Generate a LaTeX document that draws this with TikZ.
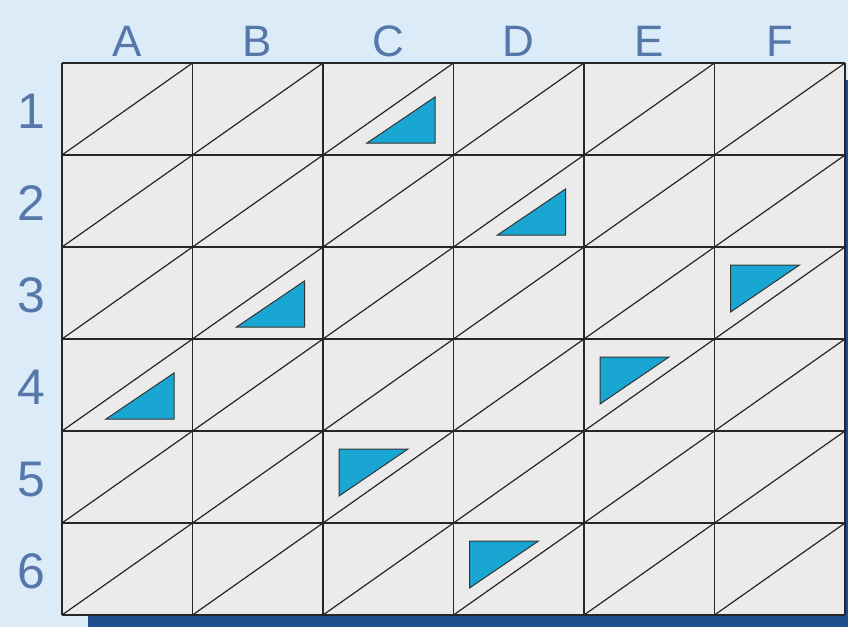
\documentclass[tikz,border=0pt]{standalone}
\usepackage{fontspec}
\setmainfont{Liberation Sans}
\definecolor{bgblue}{HTML}{DCEBF8}
\definecolor{shadowblue}{HTML}{1E4F8E}
\definecolor{cellgray}{HTML}{EBEBEB}
\definecolor{tri}{HTML}{1AA6D2}
\definecolor{labelblue}{HTML}{5577AA}
\begin{document}
\begin{tikzpicture}[x=1pt,y=-1pt,
  gridline/.style={draw=black!85,line width=1.6pt},
  diag/.style={draw=black!85,line width=1.2pt},
  tribox/.style={fill=tri,draw=black!80,line width=1pt,line join=miter},
  collabel/.style={text=labelblue,font=\fontsize{44}{44}\selectfont,anchor=base},
  rowlabel/.style={text=labelblue,font=\fontsize{50}{50}\selectfont,anchor=base}]
\useasboundingbox (0,0) rectangle (848,627);
\fill[bgblue] (0,0) rectangle (848,627);
\fill[shadowblue] (88,80) rectangle (848,627);
\fill[cellgray] (62,63) rectangle (845,615);
% diagonals
\foreach \c in {0,...,5}{
  \foreach \r in {0,...,5}{
    \draw[diag] ({62+\c*130.5},{63+(\r+1)*92}) -- ({62+(\c+1)*130.5},{63+\r*92});
  }
}
% grid
\foreach \i in {0,...,6}{
  \draw[gridline] ({62+\i*130.5},63) -- ({62+\i*130.5},615);
  \draw[gridline] (62,{63+\i*92}) -- (845,{63+\i*92});
}
% lower-right triangles
\foreach \c/\r in {2/0,3/1,1/2,0/3}{
  \draw[tribox] ({62+\c*130.5+44},{63+\r*92+80}) -- ({62+\c*130.5+112},{63+\r*92+80}) -- ({62+\c*130.5+112},{63+\r*92+34}) -- cycle;
}
% upper-left triangles
\foreach \c/\r in {5/2,4/3,2/4,3/5}{
  \draw[tribox] ({62+\c*130.5+16},{63+\r*92+18}) -- ({62+\c*130.5+85},{63+\r*92+18}) -- ({62+\c*130.5+16},{63+\r*92+65}) -- cycle;
}
% labels
\foreach \l [count=\k from 0] in {A,B,C,D,E,F}{
  \node[collabel] (col\l) at ({62+\k*130.5+65},56) {\l};
}
\foreach \l [count=\k from 0] in {1,2,3,4,5,6}{
  \node[rowlabel] (row\l) at (31,{63+\k*92+65}) {\l};
}
\end{tikzpicture}
\end{document}
